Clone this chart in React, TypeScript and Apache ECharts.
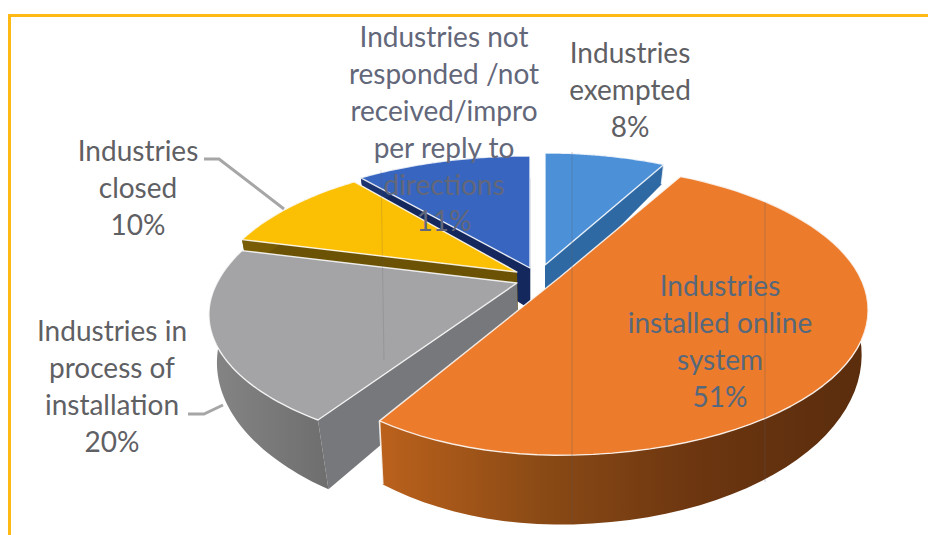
import React, { useEffect, useRef } from "react";
import * as echarts from "echarts";

const categories = [
  "Industries exempted",
  "Industries installed online system",
  "Industries in process of installation",
  "Industries closed",
  "Industries not responded /not received/improper reply to directions",
];
const seriesValues = [8, 51, 20, 10, 11];
const labelLines = [
  ["Industries", "exempted"],
  ["Industries", "installed online", "system"],
  ["Industries in", "process of", "installation"],
  ["Industries", "closed"],
  ["Industries not", "responded /not", "received/impro", "per reply to", "directions"],
];

const topColors = ["#4c90d8", "#ec7b2b", "#a4a4a6", "#fbbf04", "#3765bf"];
const faceColors = ["#2f69a4", "#9a5318", "#77787b", "#6b5204", "#14285e"];
const wallGradients = [
  ["#3a78b8", "#2f69a4"],
  ["#bb611c", "#8a4a15", "#6b3510", "#5a2d0d"],
  ["#858585", "#6e6e6e"],
  ["#7a5e05", "#6b5204"],
  ["#1b3470", "#14285e"],
];
const apexX = [545, 560, 517, 517, 530];
const apexY = [265, 277, 283, 272, 268];
const radiusLeft = [300, 272, 300, 300, 312];
const radiusRight = [296, 300, 300, 300, 312];
const depthFront = [137.6, 137.6, 131, 137.6, 137.6];
const wallExtra = [0, 0, 6, 0, 4];
const wallShiftX = [0, 0, 6, 0, 0];
const drawOrder = [4, 0, 3, 2, 1];
const labelCenterX = [630, 720, 112, 138, 444];
const labelTopY = [34, 267, 312, 132, 18];
const labelColors = ["#5f6064", "#56687c", "#5f6064", "#5f6064", "#63677a"];

const B = 137.6;
const K = 0.228;
const total = seriesValues.reduce((a, b) => a + b, 0);

function project(i: number, theta: number): [number, number] {
  const u = Math.sin(theta);
  const v = Math.cos(theta);
  const w = 1 + K * v;
  const a = u < 0 ? radiusLeft[i] : radiusRight[i];
  const b = v < 0 ? depthFront[i] : B;
  return [apexX[i] + (a * u) / w, apexY[i] - (b * v) / w];
}
function lower(i: number, p: [number, number]): [number, number] {
  return [
    p[0] + (545 - p[0]) * 0.02 + wallShiftX[i] * Math.max(0, (p[1] - 283) / 137),
    p[1] + 20 + (p[1] - 165) * 0.17 + wallExtra[i],
  ];
}

function renderSlice(params: any, api: any) {
  const i = api.value(1) as number;
  let before = 0;
  for (let k = 0; k < i; k++) before += seriesValues[k];
  const t0 = (before / total) * Math.PI * 2;
  const t1 = ((before + api.value(0)) / total) * Math.PI * 2;
  const arc: [number, number][] = [];
  const steps = 64;
  for (let s = 0; s <= steps; s++) arc.push(project(i, t0 + ((t1 - t0) * s) / steps));
  const apex: [number, number] = [apexX[i], apexY[i]];
  const wallStops = wallGradients[i].map((c, n, all) => ({ offset: n / (all.length - 1), color: c }));
  const wallFill = new echarts.graphic.LinearGradient(0, 0, 1, 0, wallStops);
  const rim = "rgba(255,255,255,0.85)";
  const low = (p: [number, number]) => lower(i, p);
  const children: any[] = [
    {
      type: "polygon",
      shape: { points: [apex, arc[0], low(arc[0]), low(apex)] },
      style: { fill: faceColors[i] },
    },
    {
      type: "polygon",
      shape: { points: [apex, arc[steps], low(arc[steps]), low(apex)] },
      style: { fill: faceColors[i] },
    },
    {
      type: "polygon",
      shape: { points: [...arc, ...arc.slice().reverse().map(low)] },
      style: { fill: wallFill },
    },
    {
      type: "polyline",
      shape: { points: [arc[steps], low(arc[steps])] },
      style: { stroke: rim, lineWidth: 1.6, fill: "none" },
    },
    {
      type: "polygon",
      shape: { points: [apex, ...arc] },
      style: { fill: topColors[i], stroke: rim, lineWidth: 1.4, lineJoin: "round" },
    },
  ];
  return { type: "group", children };
}

export default function App() {
  const ref = useRef<HTMLDivElement>(null);
  useEffect(() => {
    const chart = echarts.init(ref.current!, undefined, { renderer: "svg" });
    const texts = categories.map((_, i) => ({
      type: "text",
      z: 100,
      style: {
        x: labelCenterX[i],
        y: labelTopY[i],
        text: [...labelLines[i], `${Math.round((seriesValues[i] / total) * 100)}%`].join("\n"),
        align: "center",
        verticalAlign: "top",
        fontFamily: "Lato",
        fontSize: 28,
        lineHeight: 36.8,
        fill: labelColors[i],
      },
    }));
    const deco = (points: number[][], stroke: string, lineWidth: number, z = 90) => ({
      type: "polyline",
      z,
      shape: { points },
      style: { stroke, lineWidth, fill: "none" },
    });
    chart.setOption({
      animation: false,
      backgroundColor: "#ffffff",
      series: [
        {
          type: "custom",
          coordinateSystem: "none",
          renderItem: renderSlice,
          silent: true,
          data: drawOrder.map((i) => ({ name: categories[i], value: [seriesValues[i], i] })),
        },
      ],
      graphic: [
        deco([[928, 15.5], [9.5, 15.5], [9.5, 535]], "#ffb915", 3),
        deco([[204, 159], [219, 159], [284, 209]], "#a6a6a6", 3),
        deco([[188, 414], [204, 414], [223, 405]], "#a6a6a6", 3),
        deco([[381, 170], [384, 360]], "rgba(90,90,100,0.18)", 1),
        deco([[572, 152], [572, 523]], "rgba(90,90,100,0.3)", 1),
        deco([[765, 202], [765, 482]], "rgba(90,90,100,0.3)", 1),
        ...texts,
      ],
    });
    return () => chart.dispose();
  }, []);
  return <div ref={ref} style={{ position: "absolute", left: 0, top: 0, width: 928, height: 535 }} />;
}
